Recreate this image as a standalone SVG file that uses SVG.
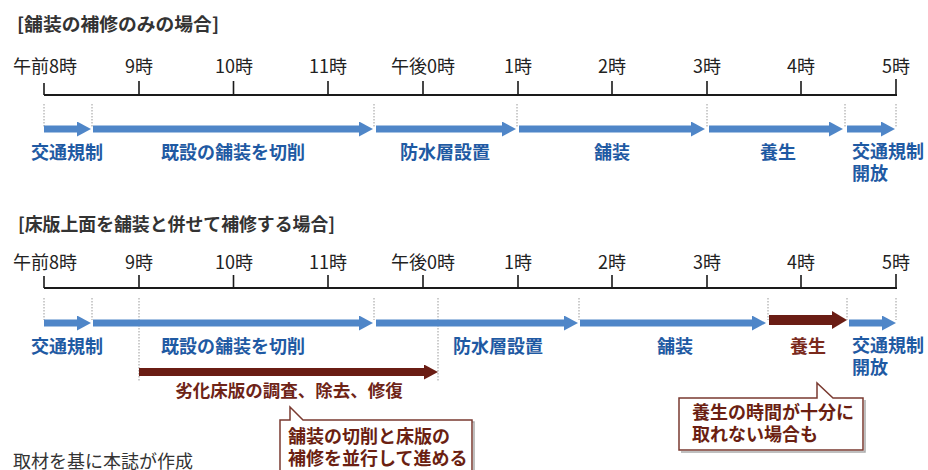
<svg xmlns="http://www.w3.org/2000/svg" width="928" height="470" viewBox="0 0 928 470">
<defs>
<marker id="hb" markerUnits="userSpaceOnUse" markerWidth="14" markerHeight="15" viewBox="0 0 14 15" refX="0" refY="7.5" orient="auto"><path d="M0,0 L14,7.5 L0,15 Z" fill="#4f86c8"/></marker>
<marker id="hr" markerUnits="userSpaceOnUse" markerWidth="14" markerHeight="15" viewBox="0 0 14 15" refX="0" refY="7.5" orient="auto"><path d="M0,0 L14,7.5 L0,15 Z" fill="#6a1d14"/></marker>
<marker id="hr2" markerUnits="userSpaceOnUse" markerWidth="15" markerHeight="18" viewBox="0 0 15 18" refX="0" refY="9" orient="auto"><path d="M0,0 L15,9 L0,18 Z" fill="#6a1d14"/></marker>
<style>
text{font-family:"Noto Sans CJK JP","Noto Sans",sans-serif}
.title{font-size:18px;font-weight:bold;fill:#333}
.hour{font-size:18px;fill:#222;text-anchor:middle}
.lb{font-size:18px;font-weight:bold;fill:#1f5aa3;text-anchor:middle}
.lbs{font-size:18px;font-weight:bold;fill:#1f5aa3}
.lr{font-size:17.5px;font-weight:bold;fill:#6e2417;text-anchor:middle}
.ct{font-size:18px;font-weight:bold;fill:#6b1f12}
.note{font-size:18px;fill:#333}
.axis{stroke:#1a1a1a;stroke-width:2;fill:none}
.tick{stroke:#1a1a1a;stroke-width:1.6}
.dot{stroke:#9a9a9a;stroke-width:1;stroke-dasharray:1.5 1.5}
.ab{stroke:#4f86c8;stroke-width:7;marker-end:url(#hb)}
.ar{stroke:#6a1d14;stroke-width:8;marker-end:url(#hr)}
.ar2{stroke:#6a1d14;stroke-width:10;marker-end:url(#hr2)}
.call{fill:#fff;stroke:#7a3a30;stroke-width:1.5}
.shadow{fill:none;stroke:#aaa;stroke-width:1.5}
</style>
</defs>
<rect width="928" height="470" fill="#fff"/>

<g id="case1">
<text class="title" x="17" y="31" textLength="202" lengthAdjust="spacingAndGlyphs">[舗装の補修のみの場合]</text>
<g id="axis1">
<line class="axis" x1="44" y1="95" x2="897" y2="95"/>
<path class="tick" d="M44,83V95M139,81V95M233.5,81V95M328,81V95M423,81V95M518,81V95M612,81V95M707,81V95M801,81V95M896,79V95"/>
<text class="hour" x="45" y="73">午前8時</text>
<text class="hour" x="139" y="73">9時</text>
<text class="hour" x="234" y="73">10時</text>
<text class="hour" x="328" y="73">11時</text>
<text class="hour" x="423" y="73">午後0時</text>
<text class="hour" x="518" y="73">1時</text>
<text class="hour" x="612" y="73">2時</text>
<text class="hour" x="707" y="73">3時</text>
<text class="hour" x="801" y="73">4時</text>
<text class="hour" x="896" y="73">5時</text>
</g>
<g id="guides1">
<path class="dot" d="M44,104V127M92,104V127M374,104V127M517,104V127M707,104V127M845,104V127M896,104V127"/>
</g>
<g id="connectors1">
<line class="ab" x1="44" y1="129" x2="77" y2="129"/>
<line class="ab" x1="93" y1="129" x2="359" y2="129"/>
<line class="ab" x1="376" y1="129" x2="502" y2="129"/>
<line class="ab" x1="519" y1="129" x2="691" y2="129"/>
<line class="ab" x1="709" y1="129" x2="829" y2="129"/>
<line class="ab" x1="847" y1="129" x2="881" y2="129"/>
</g>
<g id="n1-kisei"><text class="lb" x="67" y="159">交通規制</text></g>
<g id="n1-sessaku"><text class="lb" x="233" y="159">既設の舗装を切削</text></g>
<g id="n1-bousui"><text class="lb" x="445" y="159">防水層設置</text></g>
<g id="n1-hosou"><text class="lb" x="612" y="159">舗装</text></g>
<g id="n1-yousei"><text class="lb" x="778" y="159">養生</text></g>
<g id="n1-kaihou"><text class="lbs" x="852" y="158">交通規制</text><text class="lbs" x="852" y="180">開放</text></g>
</g>

<g id="case2">
<text class="title" x="18" y="231" textLength="317" lengthAdjust="spacingAndGlyphs">[床版上面を舗装と併せて補修する場合]</text>
<g id="axis2">
<line class="axis" x1="44" y1="288" x2="897" y2="288"/>
<path class="tick" d="M44,276V288M139,275V288M233.5,275V288M328,275V288M423,275V288M518,275V288M612,275V288M707,275V288M801,275V288M896,274V288"/>
<text class="hour" x="45" y="269">午前8時</text>
<text class="hour" x="139" y="269">9時</text>
<text class="hour" x="234" y="269">10時</text>
<text class="hour" x="328" y="269">11時</text>
<text class="hour" x="423" y="269">午後0時</text>
<text class="hour" x="518" y="269">1時</text>
<text class="hour" x="612" y="269">2時</text>
<text class="hour" x="707" y="269">3時</text>
<text class="hour" x="801" y="269">4時</text>
<text class="hour" x="896" y="269">5時</text>
</g>
<g id="guides2">
<path class="dot" d="M44,298V320M92,298V320M374,298V320M579,298V320M768,298V320M847,298V320M896,298V320M139,298V382M438,298V381"/>
</g>
<g id="connectors2">
<line class="ab" x1="44" y1="323" x2="77" y2="323"/>
<line class="ab" x1="93" y1="323" x2="359" y2="323"/>
<line class="ab" x1="376" y1="323" x2="564" y2="323"/>
<line class="ab" x1="580" y1="323" x2="752" y2="323"/>
<line class="ar2" x1="769" y1="320" x2="832" y2="320"/>
<line class="ab" x1="849" y1="323" x2="882" y2="323"/>
<line class="ar" x1="139" y1="372" x2="424" y2="372"/>
</g>
<g id="n2-kisei"><text class="lb" x="67" y="353">交通規制</text></g>
<g id="n2-sessaku"><text class="lb" x="233" y="353">既設の舗装を切削</text></g>
<g id="n2-bousui"><text class="lb" x="498" y="353">防水層設置</text></g>
<g id="n2-hosou"><text class="lb" x="675" y="353">舗装</text></g>
<g id="n2-yousei"><text class="lb" x="808" y="353" style="fill:#7a2a1c">養生</text></g>
<g id="n2-kaihou"><text class="lbs" x="852" y="352">交通規制</text><text class="lbs" x="852" y="374">開放</text></g>
<g id="n2-shouban"><text class="lr" x="289" y="397">劣化床版の調査、除去、修復</text></g>
</g>

<g id="callout1">
<path class="shadow" d="M282,422 H292 M305,422 H474 V480"/>
<path class="call" d="M280,420 H290 V407 L303,420 H472 V480 H280 Z"/>
<text class="ct" x="288" y="443">舗装の切削と床版の</text>
<text class="ct" x="288" y="465">補修を並行して進める</text>
</g>

<g id="callout2">
<path class="shadow" d="M681,452 H865 V400"/>
<path class="call" d="M679,398 H817 V383 L833,398 H863 V450 H679 Z"/>
<text class="ct" x="692" y="419">養生の時間が十分に</text>
<text class="ct" x="692" y="441">取れない場合も</text>
</g>

<g id="source"><text class="note" x="13" y="468">取材を基に本誌が作成</text></g>
</svg>
